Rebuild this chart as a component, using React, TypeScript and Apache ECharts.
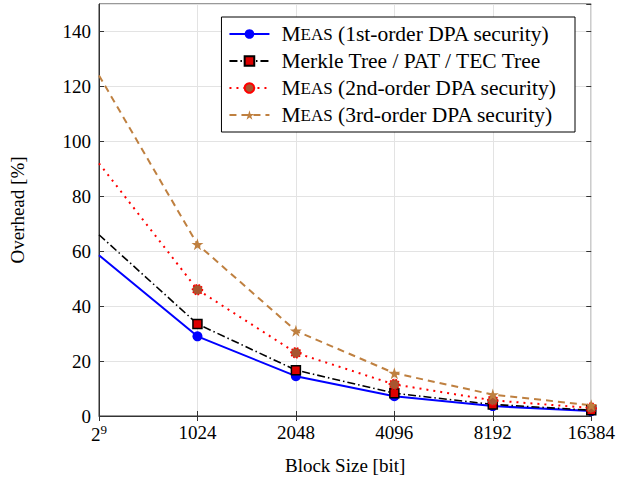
import React, { useEffect, useRef } from "react";
import * as echarts from "echarts";

const blockSizes = [512, 1024, 2048, 4096, 8192, 16384];
const meas1 = [58.5, 29, 14.5, 7.2, 3.6, 1.8];
const merkle = [66, 33.5, 16.7, 8.3, 4.2, 2.1];
const meas2 = [92, 46, 23, 11.5, 5.7, 2.9];
const meas3 = [124, 62.5, 31, 15.6, 7.8, 3.9];
const yTicks = [0, 20, 40, 60, 80, 100, 120, 140];

const FONT = "'Liberation Serif', serif";
const STAR = "path://M50,0 L61,35 L98,35 L68,57 L79,91 L50,70 L21,91 L32,57 L2,35 L39,35 Z";

function toData(vals: number[]) {
  return vals.map((v, i) =>
    i === 0 ? { value: [blockSizes[i], v], symbol: "none" } : { value: [blockSizes[i], v] }
  );
}

export default function App() {
  const ref = useRef<HTMLDivElement>(null);
  useEffect(() => {
    const chart = echarts.init(ref.current!, null, { renderer: "svg" });
    const rich = {
      g: { width: 7 },
      n: { fontFamily: FONT, fontSize: 21.5, color: "#000", lineHeight: 21 },
      sc: { fontFamily: FONT, fontSize: 17, color: "#000", lineHeight: 21 },
    };
    const common = { type: "line", clip: false, showAllSymbol: true, z: 3 } as any;
    chart.setOption({
      animation: false,
      grid: {
        left: 98,
        top: 4,
        width: 495,
        height: 412,
        show: true,
        borderColor: "#333",
        borderWidth: 1,
        backgroundColor: "transparent",
      },
      legend: {
        orient: "vertical",
        right: 43,
        top: 17,
        align: "left",
        backgroundColor: "#fff",
        borderColor: "#000",
        borderWidth: 1,
        borderRadius: 0,
        padding: [6, 18, 6, 7],
        itemGap: 5,
        itemWidth: 40,
        itemHeight: 12,
        textStyle: { fontFamily: FONT, fontSize: 21.5, color: "#000", rich },
        formatter: (name: string) => {
          if (name.startsWith("Meas")) {
            return "{g|}{n|M}{sc|EAS}{n|" + name.slice(4) + "}";
          }
          return "{g|}{n|" + name + "}";
        },
        data: [
          "Meas (1st-order DPA security)",
          "Merkle Tree / PAT / TEC Tree",
          "Meas (2nd-order DPA security)",
          "Meas (3rd-order DPA security)",
        ],
      },
      xAxis: [
        {
          type: "log",
          logBase: 2,
          min: 512,
          max: 16384,
          name: "Block Size [bit]",
          nameLocation: "middle",
          nameGap: 40,
          nameTextStyle: { fontFamily: FONT, fontSize: 19, color: "#000" },
          axisLine: { show: true, lineStyle: { color: "#333" } },
          axisTick: { show: true, inside: true, length: 5, lineStyle: { color: "#333" } },
          splitLine: { show: true, lineStyle: { color: "#e3e3e3" } },
          axisLabel: {
            margin: 7,
            fontFamily: FONT,
            fontSize: 19,
            color: "#000",
            formatter: (v: number) => (Math.abs(v - 512) < 1 ? "{b|2}{s|9}" : String(Math.round(v))),
            rich: {
              b: { fontFamily: FONT, fontSize: 19, color: "#000" },
              s: { fontFamily: FONT, fontSize: 13, color: "#000", padding: [0, 0, 9, 0] },
            },
          },
        },
        {
          type: "log",
          logBase: 2,
          min: 512,
          max: 16384,
          position: "top",
          axisLine: { show: false },
          axisTick: { show: true, inside: true, length: 5, lineStyle: { color: "#333" } },
          axisLabel: { show: false },
          splitLine: { show: false },
        },
      ],
      yAxis: [
        {
          type: "value",
          min: 0,
          max: 150,
          interval: 20,
          name: "Overhead [%]",
          nameLocation: "middle",
          nameGap: 72,
          nameTextStyle: { fontFamily: FONT, fontSize: 19, color: "#000" },
          axisLine: { show: true, lineStyle: { color: "#333" } },
          axisTick: { show: true, inside: true, length: 5, lineStyle: { color: "#333" } },
          splitLine: { show: true, lineStyle: { color: "#e3e3e3" } },
          axisLabel: {
            showMaxLabel: false,
            margin: 8,
            fontFamily: FONT,
            fontSize: 19,
            color: "#000",
            formatter: (v: number) => (yTicks.includes(v) ? String(v) : ""),
          },
        },
        {
          type: "value",
          min: 0,
          max: 150,
          interval: 20,
          position: "right",
          axisLine: { show: false },
          axisTick: { show: true, inside: true, length: 5, lineStyle: { color: "#333" } },
          axisLabel: { show: false },
          splitLine: { show: false },
        },
      ],
      series: [
        {
          ...common,
          name: "Meas (1st-order DPA security)",
          data: toData(meas1),
          symbol: "circle",
          symbolSize: 10,
          itemStyle: { color: "#0000ff" },
          lineStyle: { color: "#0000ff", width: 2 },
        },
        {
          ...common,
          name: "Merkle Tree / PAT / TEC Tree",
          data: toData(merkle),
          symbol: "rect",
          symbolSize: 9,
          itemStyle: { color: "#dd0000", borderColor: "#000", borderWidth: 1.5 },
          lineStyle: { color: "#000", width: 1.6, type: [8, 3, 1.5, 3] },
        },
        {
          ...common,
          name: "Meas (2nd-order DPA security)",
          data: toData(meas2),
          symbol: "circle",
          symbolSize: 10,
          itemStyle: { color: "#a85530", borderColor: "#ff0000", borderWidth: 1.5, borderType: "dotted" },
          lineStyle: { color: "#ff0000", width: 2, type: [2, 5] },
        },
        {
          ...common,
          name: "Meas (3rd-order DPA security)",
          data: toData(meas3),
          symbol: STAR,
          symbolSize: 12,
          itemStyle: { color: "#bf8040" },
          lineStyle: { color: "#bf8040", width: 2, type: [7, 5] },
        },
      ],
    });
    return () => chart.dispose();
  }, []);
  return (
    <div
      ref={ref}
      style={{ position: "absolute", left: 0, top: 0, width: 618, height: 483 }}
    />
  );
}
